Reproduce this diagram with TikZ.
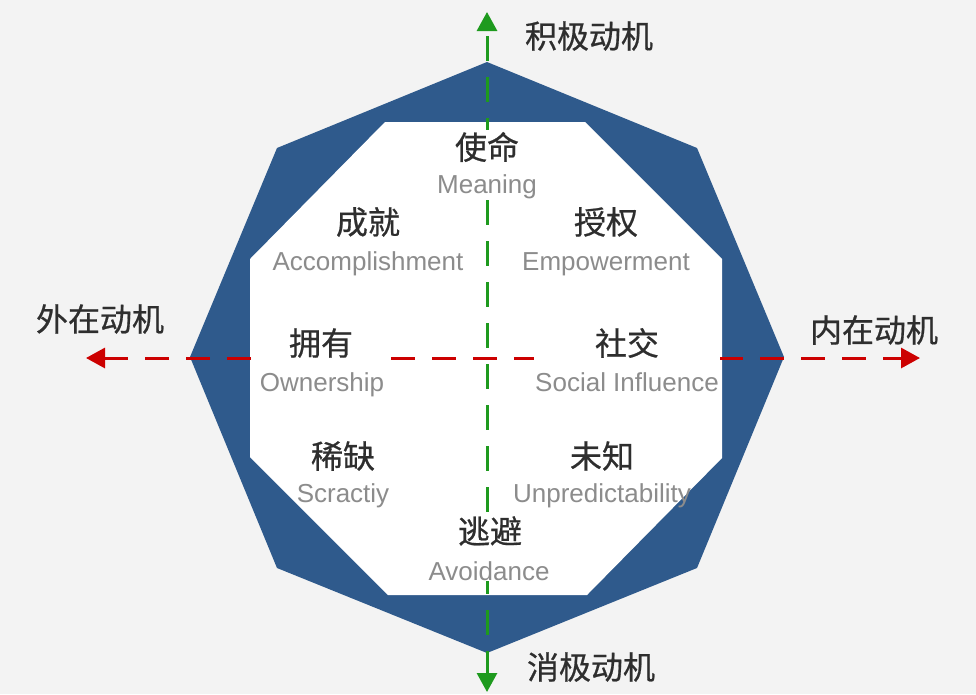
\documentclass[tikz,border=0pt]{standalone}
\usepackage{fontspec}
\setmainfont{Liberation Sans}
\newfontfamily\cjk[FakeBold=0.6]{Noto Sans CJK SC}
\usetikzlibrary{arrows.meta,fit}
\definecolor{bgc}{HTML}{F3F3F3}
\definecolor{octblue}{HTML}{2F5A8C}
\definecolor{axred}{HTML}{CC0000}
\definecolor{axgreen}{HTML}{1E9A1E}
\definecolor{cntext}{HTML}{2E2E2E}
\definecolor{entext}{HTML}{8C8C8C}
\pgfdeclarelayer{back}
\pgfdeclarelayer{axes}
\pgfdeclarelayer{masks}
\pgfsetlayers{back,axes,masks,main}
\begin{document}
\begin{tikzpicture}[x=1pt,y=-1pt,
  cn/.style={font=\cjk\fontsize{32}{32}\selectfont, text=cntext, inner sep=0pt},
  en/.style={font=\fontsize{26}{26}\selectfont, text=entext, inner sep=0pt, anchor=base},
  mask/.style={fill=white, draw=none, inner sep=1.5pt},
  redaxis/.style={draw=axred, line width=3pt, dash pattern=on 23.5pt off 17.5pt,
     {Triangle[length=19pt,width=20pt]}-{Triangle[length=19pt,width=20pt]}},
  greenaxis/.style={draw=axgreen, line width=3pt, dash pattern=on 25pt off 16pt, dash phase=35pt,
     {Triangle[length=19pt,width=20pt]}-{Triangle[length=19pt,width=20pt]}}
]
% background and octagons
\begin{pgfonlayer}{back}
  \fill[bgc] (0,0) rectangle (976,694);
  \fill[octblue] (487,62) -- (697,148) -- (784,357) -- (697,568) -- (487,653)
     -- (277,568) -- (190,357) -- (277,148) -- cycle;
  \fill[white] (385,122) -- (585,122) -- (722,259) -- (722,458) -- (587,595)
     -- (388,595) -- (250,457) -- (250,259) -- cycle;
\end{pgfonlayer}

% axis end points
\coordinate (ytop) at (487,12);
\coordinate (ybot) at (487,692);
\coordinate (xleft) at (86,358);
\coordinate (xright) at (920,358);

% axis labels
\node[cn] (pos) at (589,36) {积极动机};
\node[cn] (neg) at (591,667) {消极动机};
\node[cn] (ext) at (100,319) {外在动机};
\node[cn] (int) at (874,330) {内在动机};

% quadrant labels
\node[cn] (c1) at (487,147) {使命};
\node[en] (e1) at (487,193) {Meaning};
\node[cn] (c2) at (368,222) {成就};
\node[en] (e2) at (368,270) {Accomplishment};
\node[cn] (c3) at (606,222) {授权};
\node[en] (e3) at (606,270) {Empowerment};
\node[cn] (c4) at (321,343) {拥有};
\node[en] (e4) at (322,391) {Ownership};
\node[cn] (c5) at (627,343) {社交};
\node[en] (e5) at (627,391) {Social Influence};
\node[cn] (c6) at (343,456) {稀缺};
\node[en] (e6) at (343,502) {Scractiy};
\node[cn] (c7) at (602,456) {未知};
\node[en] (e7) at (602,502) {Unpredictability};
\node[cn] (c8) at (490,531) {逃避};
\node[en] (e8) at (489,580) {Avoidance};

% white masks behind labels that sit on the axes
\begin{pgfonlayer}{masks}
  \node[mask, fit=(c1)(e1)] (m1) {};
  \node[mask, fit=(c4)(e4)] (m4) {};
  \node[mask, fit=(c5)(e5)] (m5) {};
  \node[mask, inner sep=1pt, fit=(c8)(e8)] (m8) {};
\end{pgfonlayer}

% axes
\begin{pgfonlayer}{axes}
  \draw[redaxis] (xleft) -- (xright);
  \draw[greenaxis] (ytop) -- (ybot);
\end{pgfonlayer}
\end{tikzpicture}
\end{document}
